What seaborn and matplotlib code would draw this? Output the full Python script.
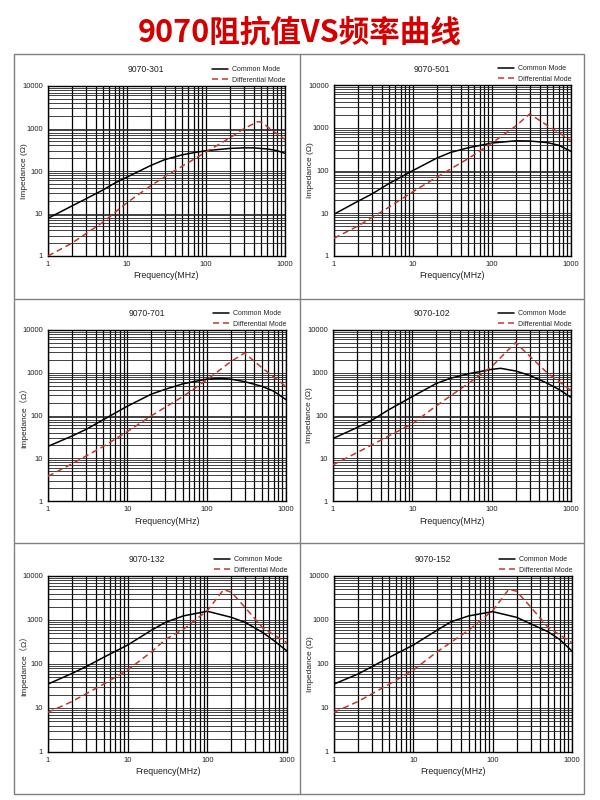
import matplotlib
matplotlib.use("Agg")
import matplotlib.pyplot as plt
import numpy as np
import pandas as pd
import seaborn as sns
from matplotlib.ticker import LogLocator, NullFormatter
from matplotlib.lines import Line2D
from matplotlib.patches import Rectangle

# ---------------- data ----------------
main_title = "9070阻抗值VS频率曲线"
models = ["9070-301", "9070-501", "9070-701", "9070-102", "9070-132", "9070-152"]
mode_labels = ["Common Mode", "Differential Mode"]
x_ticks = [1, 10, 100, 1000]
y_ticks = [1, 10, 100, 1000, 10000]
x_label = "Frequency(MHz)"
y_labels = ["Impedance (Ω)", "Impedance (Ω)", "Impedance（Ω）", "Impedance (Ω)",
            "Impedance（Ω）", "Impedance (Ω)"]

# 9070-301
f_cm_301 = [1, 2, 3, 5, 7, 10, 20, 30, 50, 70, 100, 200, 300, 400, 600, 800, 1000]
z_cm_301 = [7.7, 15, 22, 36, 52, 72, 135, 185, 240, 270, 300, 340, 350, 350, 330, 300, 260]
f_dm_301 = [1, 2, 5, 10, 20, 30, 50, 100, 200, 300, 450, 500, 700, 1000]
z_dm_301 = [1.0, 2.0, 6.3, 18, 45, 73, 130, 280, 600, 980, 1450, 1420, 880, 550]

# 9070-501
f_cm_501 = [1, 2, 3, 5, 10, 20, 30, 50, 100, 200, 300, 500, 700, 1000]
z_cm_501 = [9.5, 19, 28, 50, 100, 195, 265, 340, 440, 495, 490, 450, 390, 280]
f_dm_501 = [1, 2, 5, 10, 20, 50, 100, 200, 300, 500, 700, 1000]
z_dm_501 = [2.6, 5, 14, 32, 70, 190, 440, 1100, 2100, 1140, 770, 500]

# 9070-701
f_cm_701 = [1, 2, 3, 5, 10, 20, 30, 50, 100, 150, 200, 300, 500, 700, 1000]
z_cm_701 = [19, 33, 47, 80, 165, 315, 410, 550, 710, 740, 710, 620, 480, 370, 235]
f_dm_701 = [1, 2, 5, 10, 20, 50, 100, 200, 300, 500, 1000]
z_dm_701 = [3.8, 7.4, 19, 42, 98, 277, 680, 1800, 2900, 1300, 475]

# 9070-102
f_cm_102 = [1, 2, 3, 5, 10, 20, 30, 50, 100, 130, 200, 300, 500, 700, 1000]
z_cm_102 = [29, 52, 75, 135, 277, 560, 740, 940, 1200, 1270, 1100, 870, 570, 410, 265]
f_dm_102 = [1, 2, 3, 5, 10, 20, 50, 100, 200, 500, 1000]
z_dm_102 = [7, 13.5, 20, 33, 64, 168, 550, 1390, 5100, 1000, 385]

# 9070-132
f_cm_132 = [1, 2, 3, 5, 10, 20, 30, 50, 100, 200, 300, 500, 700, 1000]
z_cm_132 = [35, 61, 87, 142, 270, 590, 890, 1240, 1580, 1150, 880, 515, 330, 197]
f_dm_132 = [1, 2, 5, 10, 20, 30, 50, 100, 160, 200, 300, 500, 1000]
z_dm_132 = [8, 14, 35, 73, 190, 365, 615, 1630, 4900, 4300, 1900, 650, 305]

# 9070-152
f_cm_152 = [1, 2, 5, 10, 20, 30, 50, 100, 200, 500, 700, 1000]
z_cm_152 = [35, 59, 142, 270, 590, 915, 1240, 1550, 1150, 540, 360, 197]
f_dm_152 = [1, 2, 5, 10, 20, 50, 100, 160, 200, 300, 500, 1000]
z_dm_152 = [8, 14, 35, 73, 190, 590, 1630, 5000, 4500, 2000, 680, 305]

series = [
    (f_cm_301, z_cm_301, f_dm_301, z_dm_301),
    (f_cm_501, z_cm_501, f_dm_501, z_dm_501),
    (f_cm_701, z_cm_701, f_dm_701, z_dm_701),
    (f_cm_102, z_cm_102, f_dm_102, z_dm_102),
    (f_cm_132, z_cm_132, f_dm_132, z_dm_132),
    (f_cm_152, z_cm_152, f_dm_152, z_dm_152),
]

# ---------------- style ----------------
sns.set_style("white")
plt.rcParams["font.family"] = ["Liberation Sans", "Noto Sans CJK SC", "DejaVu Sans"]

RED = "#c0392b"
W, H = 600, 800
fig = plt.figure(figsize=(6, 8), dpi=100)
fig.patch.set_facecolor("white")

# axes boxes in pixels (x0, y0, x1, y1)
boxes = [
    (48, 86, 285, 256),
    (334, 85, 571, 256),
    (48, 330, 286, 501),
    (333, 330, 571, 501),
    (48, 576, 287, 752),
    (334, 576, 572, 752),
]

# panel frames
ec = "#808080"
fig.add_artist(Rectangle((14 / W, 1 - 794 / H), (584 - 14) / W, (794 - 54) / H,
                         transform=fig.transFigure, fill=False, ec=ec, lw=1.0))
fig.add_artist(Line2D([300 / W, 300 / W], [1 - 54 / H, 1 - 794 / H],
                      transform=fig.transFigure, color=ec, lw=1.0))
for yy in (299, 543):
    fig.add_artist(Line2D([14 / W, 584 / W], [1 - yy / H, 1 - yy / H],
                          transform=fig.transFigure, color=ec, lw=1.0))

fig.text(0.5, 1 - 33 / H, main_title, ha="center", va="center", fontsize=22,
         color="#d40000", fontweight="bold",
         family=["Noto Sans CJK SC", "DejaVu Sans"])

palette = {mode_labels[0]: "black", mode_labels[1]: RED}
dashes = {mode_labels[0]: "", mode_labels[1]: (4, 2.5)}

for i, (name, (fc, zc, fd, zd), (x0, y0, x1, y1)) in enumerate(zip(models, series, boxes)):
    ax = fig.add_axes([x0 / W, 1 - y1 / H, (x1 - x0) / W, (y1 - y0) / H])
    df = pd.DataFrame({
        "freq": list(fc) + list(fd),
        "z": list(zc) + list(zd),
        "mode": [mode_labels[0]] * len(fc) + [mode_labels[1]] * len(fd),
    })
    ax.set_xscale("log")
    ax.set_yscale("log")
    sns.lineplot(data=df, x="freq", y="z", hue="mode", style="mode",
                 palette=palette, dashes=dashes, estimator=None, sort=True,
                 legend=False, ax=ax, linewidth=1.1, zorder=3)
    ax.set_xlim(1, 1000)
    ax.set_ylim(1, 10000)
    ax.xaxis.set_minor_locator(LogLocator(base=10, subs=range(2, 10)))
    ax.yaxis.set_minor_locator(LogLocator(base=10, subs=range(2, 10)))
    ax.set_xticks(x_ticks)
    ax.set_xticklabels([str(t) for t in x_ticks])
    ax.set_yticks(y_ticks)
    ax.set_yticklabels([str(t) for t in y_ticks])
    ax.xaxis.set_minor_formatter(NullFormatter())
    ax.yaxis.set_minor_formatter(NullFormatter())
    ax.set_axisbelow(True)
    ax.grid(True, which="both", axis="x", color="black", lw=0.9)
    ax.grid(True, which="both", axis="y", color="#222222", lw=0.6)
    ax.tick_params(which="both", length=0, labelsize=5.5, pad=3.5, colors="#222222")
    for s in ax.spines.values():
        s.set_color("black")
        s.set_linewidth(1.0)
    ax.set_xlabel(x_label, fontsize=6.3, color="#222222")
    ax.set_ylabel(y_labels[i], fontsize=6.0, color="#222222")
    ax.xaxis.set_label_coords(0.5, -20 / (y1 - y0), transform=ax.transAxes)
    ax.yaxis.set_label_coords(-24 / (x1 - x0), 0.5, transform=ax.transAxes)
    ax.xaxis.label.set_va("center")
    ax.yaxis.label.set_va("center")
    ax.text(0.415, 1 + 16 / (y1 - y0), name, transform=ax.transAxes,
            ha="center", va="center", fontsize=6.2, color="#222222")
    handles = [Line2D([], [], color="black", lw=1.1),
               Line2D([], [], color=RED, lw=1.1, ls=(0, (4, 2.5)))]
    ax.legend(handles, mode_labels, loc="lower right", bbox_to_anchor=(1.01, 1.0),
              frameon=False, fontsize=5, handlelength=2.4, handletextpad=0.5,
              labelspacing=0.55, borderpad=0.3, borderaxespad=0.0)

fig.savefig("out.png", dpi=100, facecolor="white")
